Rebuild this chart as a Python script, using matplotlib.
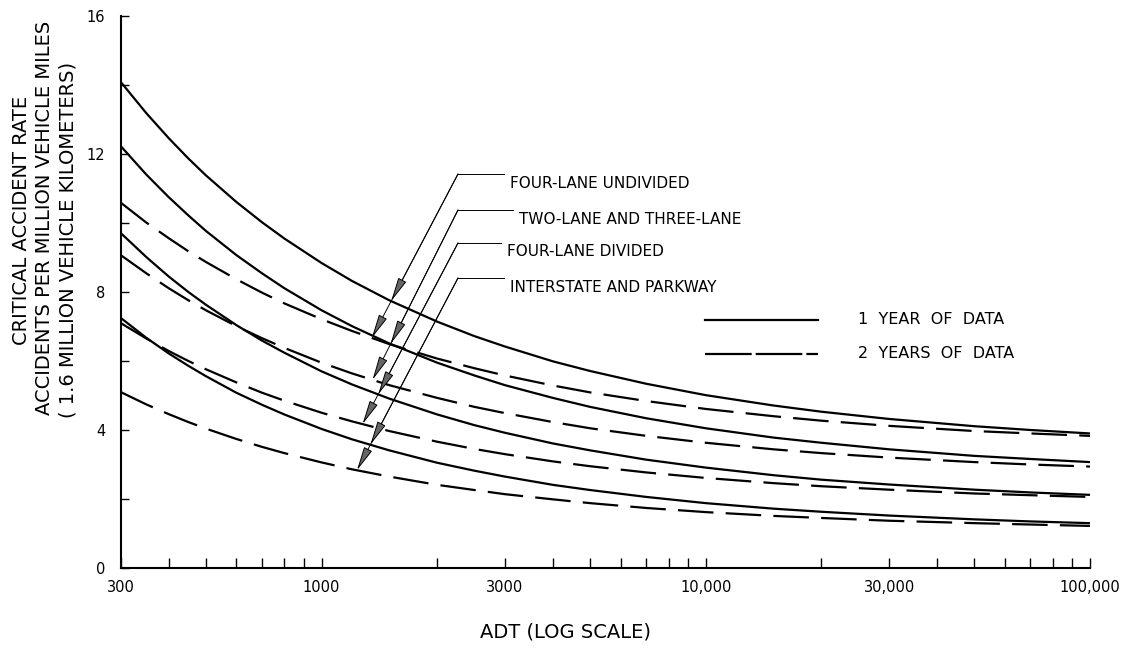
import numpy as np
import matplotlib
matplotlib.use("Agg")
import matplotlib.pyplot as plt

# Average daily traffic at which the curves are read
adt = [300, 350, 400, 450, 500, 600, 700, 800, 1000, 1200, 1500, 2000, 2500, 3000,
       4000, 5000, 7000, 10000, 15000, 20000, 30000, 50000, 70000, 100000]

# Critical accident rate (accidents per million vehicle miles), 1 year of data
four_lane_undivided_1yr = [14.09, 13.18, 12.46, 11.87, 11.38, 10.61, 10.02, 9.55, 8.84, 8.32,
                           7.76, 7.14, 6.72, 6.42, 5.99, 5.71, 5.34, 5.01, 4.71, 4.53,
                           4.32, 4.11, 4.00, 3.90]
two_three_lane_1yr = [12.23, 11.40, 10.75, 10.22, 9.77, 9.07, 8.54, 8.11, 7.47, 7.01,
                      6.51, 5.95, 5.58, 5.30, 4.93, 4.67, 4.34, 4.05, 3.78, 3.63,
                      3.44, 3.25, 3.16, 3.07]
four_lane_divided_1yr = [9.71, 9.01, 8.45, 8.00, 7.63, 7.04, 6.59, 6.24, 5.70, 5.32,
                         4.91, 4.45, 4.14, 3.92, 3.61, 3.41, 3.14, 2.91, 2.69, 2.56,
                         2.42, 2.27, 2.19, 2.12]
interstate_1yr = [7.25, 6.67, 6.22, 5.86, 5.56, 5.08, 4.73, 4.45, 4.03, 3.73,
                  3.41, 3.05, 2.82, 2.65, 2.41, 2.26, 2.06, 1.88, 1.72, 1.63,
                  1.52, 1.41, 1.35, 1.30]

# Same road types, 2 years of data
four_lane_undivided_2yr = [10.59, 10.01, 9.56, 9.18, 8.87, 8.37, 7.98, 7.67, 7.21, 6.87,
                           6.49, 6.07, 5.79, 5.58, 5.29, 5.09, 4.84, 4.61, 4.40, 4.27,
                           4.12, 3.97, 3.90, 3.83]
two_three_lane_2yr = [9.07, 8.54, 8.11, 7.76, 7.47, 7.01, 6.66, 6.38, 5.95, 5.64,
                      5.30, 4.93, 4.67, 4.49, 4.23, 4.05, 3.83, 3.63, 3.44, 3.33,
                      3.20, 3.07, 3.00, 2.94]
four_lane_divided_2yr = [7.10, 6.65, 6.29, 6.00, 5.76, 5.38, 5.08, 4.85, 4.50, 4.25,
                         3.97, 3.66, 3.45, 3.30, 3.09, 2.95, 2.77, 2.61, 2.46, 2.37,
                         2.27, 2.16, 2.11, 2.06]
interstate_2yr = [5.10, 4.74, 4.46, 4.23, 4.04, 3.74, 3.51, 3.33, 3.06, 2.86,
                  2.65, 2.41, 2.26, 2.14, 1.99, 1.88, 1.74, 1.62, 1.51, 1.45,
                  1.37, 1.30, 1.26, 1.22]

road_types = ["FOUR-LANE UNDIVIDED", "TWO-LANE AND THREE-LANE",
              "FOUR-LANE DIVIDED", "INTERSTATE AND PARKWAY"]
one_year = [four_lane_undivided_1yr, two_three_lane_1yr, four_lane_divided_1yr, interstate_1yr]
two_year = [four_lane_undivided_2yr, two_three_lane_2yr, four_lane_divided_2yr, interstate_2yr]
# ADT where each leader ends on its 2-year curve
leader_adt = [1351, 1357, 1278, 1236]

x_ticks = [300, 1000, 3000, 10000, 30000, 100000]
x_ticklabels = ["300", "1000", "3000", "10,000", "30,000", "100,000"]
x_minor = [400, 500, 600, 700, 800, 900, 2000, 4000, 5000, 6000, 7000, 8000, 9000,
           20000, 40000, 50000, 60000, 70000, 80000, 90000]
y_ticks = [0, 4, 8, 12, 16]
y_minor = [2, 6, 10, 14]

W, H = 1128, 651
fig = plt.figure(figsize=(W / 100, H / 100), dpi=100)
ax = fig.add_axes([120.7 / W, 1 - 568 / H, (1090 - 120.7) / W, (568 - 16) / H])

ax.set_xscale("log")
ax.set_xlim(300, 100000)
ax.set_ylim(0, 16)

LW = 1.6
for vals in one_year:
    ax.plot(adt, vals, color="black", lw=LW, solid_capstyle="butt")
for vals in two_year:
    ax.plot(adt, vals, color="black", lw=LW, dashes=(16, 5.5), dash_capstyle="butt")

for s in ["top", "right"]:
    ax.spines[s].set_visible(False)
for s in ["left", "bottom"]:
    ax.spines[s].set_linewidth(1.5)

ax.set_xticks(x_ticks)
ax.set_xticklabels(x_ticklabels)
ax.set_xticks(x_minor, minor=True)
ax.xaxis.set_minor_formatter(matplotlib.ticker.NullFormatter())
ax.set_yticks(y_ticks)
ax.set_yticklabels([str(v) for v in y_ticks])
ax.set_yticks(y_minor, minor=True)
ax.tick_params(axis="x", which="both", direction="in", length=7.5, width=1.0,
               labelsize=10.5, pad=9)
ax.tick_params(axis="y", which="both", direction="in", length=6, width=1.0,
               labelsize=10.5, pad=11)

# Axis titles
fig.text(565 / W, 1 - 632 / H, "ADT (LOG SCALE)", ha="center", va="center", fontsize=14)
ylab_lines = ["CRITICAL ACCIDENT RATE",
              "ACCIDENTS PER MILLION VEHICLE MILES",
              "( 1.6 MILLION VEHICLE KILOMETERS)"]
ylab_x = [22, 45, 68]
ylab_y = [220, 218, 240]
for txt, xp, yp in zip(ylab_lines, ylab_x, ylab_y):
    fig.text(xp / W, 1 - yp / H, txt, rotation=90, ha="center", va="center", fontsize=14)

# Road-type labels with leader arrows (each leader bends into a short hook)
label_x = [510, 519, 507, 510]
label_y = [183, 219, 252, 287]
knee_x = 458
hook_rise = 9
arrow_kw = dict(arrowstyle="-|>,head_length=1.5,head_width=0.28", lw=0.7,
                color="black", fc="0.4", shrinkA=0, shrinkB=0, mutation_scale=10)

inv = ax.transData.inverted()
lx = np.log10(adt)
for name, lxp, ly, tip_adt, solid, dashed in zip(road_types, label_x, label_y, leader_adt,
                                                 one_year, two_year):
    fig.text(lxp / W, 1 - ly / H, name, ha="left", va="center", fontsize=11)
    kx, ky = knee_x, H - ly + hook_rise
    knee = inv.transform((kx, ky))
    tail = inv.transform((lxp - 6, ky))
    ax.plot([knee[0], tail[0]], [knee[1], tail[1]], color="black", lw=0.7)
    tip_val = np.interp(np.log10(tip_adt), lx, dashed)
    tx, ty = ax.transData.transform((tip_adt, tip_val))
    # where the leader crosses the 1-year curve
    t = np.linspace(0, 1, 4001)
    pts = inv.transform(np.column_stack([kx + (tx - kx) * t, ky + (ty - ky) * t]))
    diff = pts[:, 1] - np.interp(np.log10(pts[:, 0]), lx, solid)
    cross = np.where(np.sign(diff[:-1]) != np.sign(diff[1:]))[0]
    ax.annotate("", xy=(tip_adt, tip_val), xycoords="data",
                xytext=tuple(knee), textcoords="data", arrowprops=arrow_kw)
    if len(cross):
        cx, cy = pts[cross[0]]
        ax.annotate("", xy=(cx, cy), xycoords="data",
                    xytext=tuple(knee), textcoords="data", arrowprops=arrow_kw)

# Legend
ax.plot([0.6028, 0.7194], [0.4493, 0.4493], transform=ax.transAxes, color="black", lw=LW)
ax.plot([0.6028, 0.7194], [0.3877, 0.3877], transform=ax.transAxes, color="black", lw=LW,
        dashes=(21, 1.8))
ax.text(0.7607, 0.4493, "1  YEAR  OF  DATA", transform=ax.transAxes, ha="left",
        va="center", fontsize=11.5)
ax.text(0.7607, 0.3877, "2  YEARS  OF  DATA", transform=ax.transAxes, ha="left",
        va="center", fontsize=11.5)

fig.savefig("out.png", dpi=100)
